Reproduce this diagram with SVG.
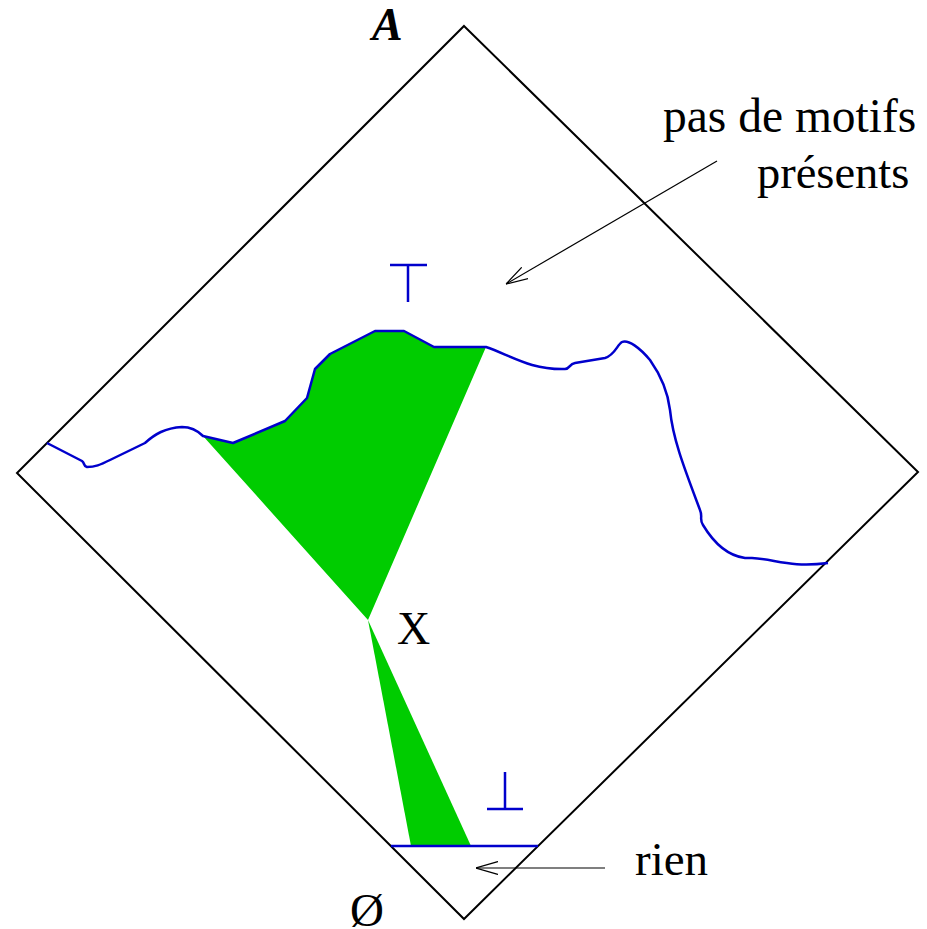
<svg xmlns="http://www.w3.org/2000/svg" width="927" height="929" viewBox="0 0 927 929">
<style>
.t{font-family:'Liberation Serif','DejaVu Serif',serif;fill:#000}
.blue{fill:none;stroke:#0000cc;stroke-width:2.5;stroke-linejoin:round;stroke-linecap:butt}
.green{fill:#00cc00;stroke:none}
.arr{fill:none;stroke:#000;stroke-width:1.2}
</style>
<defs>
<marker id="head" markerUnits="userSpaceOnUse" viewBox="0 0 22 14" refX="22" refY="7" markerWidth="22" markerHeight="14" orient="auto">
<path d="M0,0.5 L22,7 L0,13.5" fill="none" stroke="#000" stroke-width="1.2"/>
</marker>
</defs>
<rect width="927" height="929" fill="#fff"/>
<g id="lattice">
<path d="M464,26 L918,472 L464,919 L17,473 Z" fill="none" stroke="#000" stroke-width="2"/>
</g>
<g id="regions">
<path class="green" d="M203,436 L233,443 L285,421 L307,398 L315,369 L330,354 L375,331 L404,331 L434,347 L486,347 L368,620 Z"/>
<path class="green" d="M368,620 L411,846 L471,846 Z"/>
</g>
<g id="border">
<path class="blue" d="M47,443 L82,461 C85,463 83,466 87,467 C95,467 100,465 110,460 L145,443 C155,434 165,428 182,427 C192,427 198,431 203,436 L233,443 L285,421 L307,398 L315,369 L330,354 L375,331 L404,331 L434,347 L486,347 C510,355 530,370 565,369 C570,369 569,364 575,363 L605,358 C615,355 617,345 622,342 C628,339 640,348 650,360 C662,377 668,393 670,410 C673,440 685,470 700,510 C703,517 699,519 703,525 C715,545 730,556 745,558 L752,558 C775,559 790,568 828,563"/>
<line class="blue" x1="391" y1="846" x2="538" y2="846"/>
</g>
<g id="top-symbol">
<path class="blue" d="M390,265 L427,265 M408,265 L408,302"/>
</g>
<g id="bottom-symbol">
<path class="blue" d="M505,772 L505,809 M487,809 L523,809"/>
</g>
<g id="connectors">
<line class="arr" x1="717" y1="161" x2="506" y2="284" marker-end="url(#head)"/>
<line class="arr" x1="605" y1="868" x2="476" y2="868" marker-end="url(#head)"/>
</g>
<g id="labels">
<text class="t" x="372" y="40" font-size="46" font-style="italic" font-weight="bold">A</text>
<text class="t" x="397" y="644" font-size="46">X</text>
<text class="t" x="663" y="132" font-size="47.5">pas de motifs</text>
<text class="t" x="757" y="188" font-size="46.5">présents</text>
<text class="t" x="635" y="875" font-size="47">rien</text>
<text class="t" x="350" y="926" font-size="47">Ø</text>
</g>
</svg>
